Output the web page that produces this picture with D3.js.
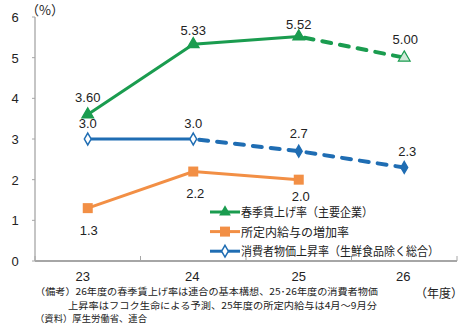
<!DOCTYPE html>
<html><head><meta charset="utf-8">
<script src="https://cdn.jsdelivr.net/npm/d3@7"></script>
<style>
body{margin:0;background:#fff;}
svg{display:block;font-family:"Noto Sans CJK JP","Noto Sans",sans-serif;}
</style></head>
<body><svg id="c" width="470" height="331"></svg>
<script>
const years = ["23","24","25","26"];
const yTicks = [0,1,2,3,4,5,6];
const shunto = [3.60, 5.33, 5.52, 5.00];
const shuntoLabels = ["3.60","5.33","5.52","5.00"];
const wage = [1.3, 2.2, 2.0];
const wageLabels = ["1.3","2.2","2.0"];
const cpi = [3.0, 3.0, 2.7, 2.3];
const cpiLabels = ["3.0","3.0","2.7","2.3"];
const legendNames = ["春季賃上げ率（主要企業）","所定内給与の増加率","消費者物価上昇率（生鮮食品除く総合）"];
const notes = ["（備考）26年度の春季賃上げ率は連合の基本構想、25･26年度の消費者物価",
               "上昇率はフコク生命による予測、25年度の所定内給与は4月～9月分",
               "（資料）厚生労働省、連合"];

const GREEN="#1a9c4f", ORANGE="#f28f45", BLUE="#1f6db3", AXIS="#a6a6a6";
const NUMFONT="Liberation Sans, sans-serif";
const svg=d3.select("#c");
const x=d3.scaleBand().domain(years).range([35,457]);
const y=d3.scaleLinear().domain([0,6]).range([261,17]);
const cx=d=>x(d)+x.bandwidth()/2;

// axes
svg.append("line").attr("x1",35).attr("x2",35).attr("y1",17).attr("y2",261).attr("stroke",AXIS).attr("stroke-width",1.3);
svg.selectAll(".yt").data(yTicks).enter().append("line").attr("x1",32).attr("x2",35)
  .attr("y1",d=>y(d)).attr("y2",d=>y(d)).attr("stroke",AXIS);
svg.selectAll(".yl").data(yTicks).enter().append("text").attr("x",15).attr("y",d=>y(d)+5)
  .attr("text-anchor","middle").attr("font-size",13).attr("fill","#222").attr("font-family",NUMFONT).text(d=>d);
svg.append("line").attr("x1",35).attr("x2",457).attr("y1",261).attr("y2",261).attr("stroke",AXIS).attr("stroke-width",2);
svg.selectAll(".xt").data(years.concat(["end"])).enter().append("line")
  .attr("x1",(d,i)=>35+i*x.bandwidth()).attr("x2",(d,i)=>35+i*x.bandwidth())
  .attr("y1",256).attr("y2",261).attr("stroke",AXIS);
svg.selectAll(".xl").data(years).enter().append("text").attr("x",(d,i)=>cx(d)+[-5,-1,0,-1][i]).attr("y",281)
  .attr("text-anchor","middle").attr("font-size",13).attr("fill","#222").attr("font-family",NUMFONT).text(d=>d);
svg.append("text").attr("x",26).attr("y",15).attr("font-size",13).attr("fill","#222").text("（%）");
svg.append("text").attr("x",463).attr("y",298).attr("text-anchor","end").attr("font-size",12).attr("fill","#222").text("（年度）");

const line=d3.line().x(d=>cx(d.k)).y(d=>y(d.v));
function series(vals){return vals.map((v,i)=>({k:years[i],v}));}
function draw(pts,color,solidEnd){
  svg.append("path").datum(pts.slice(0,solidEnd+1)).attr("d",line).attr("fill","none")
    .attr("stroke",color).attr("stroke-width",3);
  if(solidEnd<pts.length-1){
    svg.append("path").datum(pts.slice(solidEnd)).attr("d",line).attr("fill","none")
      .attr("stroke",color).attr("stroke-width",4).attr("stroke-dasharray","9,9").attr("stroke-linecap","round")
      .attr("stroke-dashoffset",-6);
  }
}
const gPts=series(shunto), wPts=series(wage), cPts=series(cpi);
draw(gPts,GREEN,2);
draw(wPts,ORANGE,2);
draw(cPts,BLUE,1);

const tri=d3.symbol().type(d3.symbolTriangle).size(60);
const dia=d3.symbol().type(d3.symbolDiamond).size(40);
svg.selectAll(".gm").data(gPts).enter().append("path").attr("d",tri)
  .attr("transform",d=>`translate(${cx(d.k)},${y(d.v)})`)
  .attr("fill",(d,i)=>i===3?"#cfe9d8":GREEN).attr("stroke",GREEN).attr("stroke-width",1.2);
svg.selectAll(".wm").data(wPts).enter().append("rect")
  .attr("x",d=>cx(d.k)-5).attr("y",d=>y(d.v)-5).attr("width",10).attr("height",10).attr("fill",ORANGE);
svg.selectAll(".cm").data(cPts).enter().append("path").attr("d",dia)
  .attr("transform",d=>`translate(${cx(d.k)},${y(d.v)})`)
  .attr("fill",(d,i)=>i<2?"#fff":BLUE).attr("stroke",BLUE).attr("stroke-width",1.5);

// value labels
const lbl=(data,labels,dx,dy)=>svg.selectAll(null).data(data).enter().append("text")
  .attr("x",(d,i)=>cx(d.k)+dx[i]).attr("y",(d,i)=>y(d.v)+dy[i]).attr("text-anchor","middle")
  .attr("font-size",13).attr("fill","#222").attr("font-family",NUMFONT).text((d,i)=>labels[i]);
lbl(gPts,shuntoLabels,[0,0,0,1],[-13,-9,-8,-14]);
lbl(wPts,wageLabels,[1,2,2],[27,26,21]);
lbl(cPts,cpiLabels,[0,0,0,3],[-11,-11,-13,-11]);

// legend
const lg=svg.append("g");
const lColors=[GREEN,ORANGE,BLUE];
const lLen=[132,null,198];
legendNames.forEach((n,i)=>{
  const ly=212+i*19.6;
  lg.append("line").attr("x1",210).attr("x2",240).attr("y1",ly).attr("y2",ly).attr("stroke",lColors[i]).attr("stroke-width",3);
  if(i===0) lg.append("path").attr("d",tri).attr("transform",`translate(225,${ly})`).attr("fill",GREEN);
  if(i===1) lg.append("rect").attr("x",220).attr("y",ly-5).attr("width",10).attr("height",10).attr("fill",ORANGE);
  if(i===2) lg.append("path").attr("d",dia).attr("transform",`translate(225,${ly})`).attr("fill","#fff").attr("stroke",BLUE).attr("stroke-width",1.5);
  const t=lg.append("text").attr("x",241).attr("y",ly+5).attr("font-size",12).attr("fill","#222").text(n);
  if(lLen[i]) t.attr("textLength",lLen[i]).attr("lengthAdjust","spacingAndGlyphs");
});

// notes block
const nx=[35,68,35], ny=[295,308.7,322.4], nl=[343,309,112];
notes.forEach((s,i)=>{
  svg.append("text").attr("x",nx[i]).attr("y",ny[i]).attr("font-size",9.4).attr("fill","#222")
    .attr("textLength",nl[i]).attr("lengthAdjust","spacingAndGlyphs").text(s);
});
</script></body></html>
